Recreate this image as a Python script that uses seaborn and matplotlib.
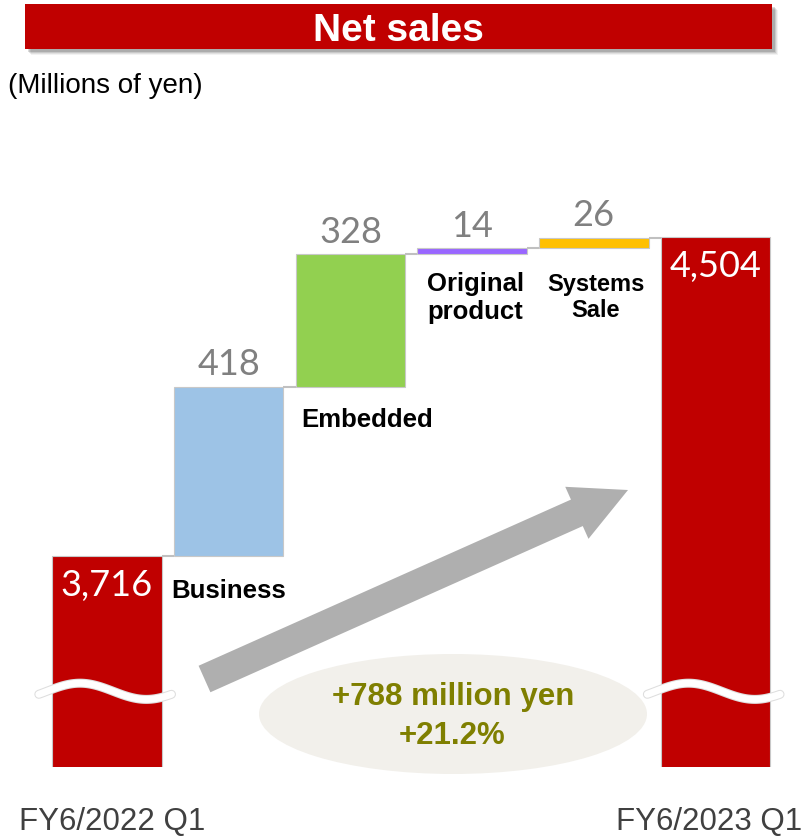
import matplotlib
matplotlib.use("Agg")
import numpy as np
import pandas as pd
import matplotlib.pyplot as plt
import matplotlib.patheffects as pe
from matplotlib.patches import Rectangle, Ellipse, FancyArrow
import seaborn as sns

# ---- data ----
categories = ["FY6/2022 Q1", "Business", "Embedded", "Original product", "Systems Sale", "FY6/2023 Q1"]
start_value = 3716
increments = [418, 328, 14, 26]
end_value = 4504
value_labels = ["3,716", "418", "328", "14", "26", "4,504"]
segment_labels = ["Business", "Embedded", "Original\nproduct", "Systems\nSale"]
bar_colors = ["#c00000", "#9dc3e6", "#92d050", "#9966ff", "#ffc000", "#c00000"]
change_amount = "+788 million yen"
change_rate = "+21.2%"

# ---- waterfall geometry ----
tops, bases = [start_value], [0]
running = start_value
for inc in increments:
    bases.append(running)
    running += inc
    tops.append(running)
tops.append(end_value)
bases.append(0)
df = pd.DataFrame({"category": categories, "top": tops, "base": bases})
df["height"] = df["top"] - df["base"]

sns.set_style("white")
plt.rcParams["font.family"] = ["Liberation Sans", "DejaVu Sans"]

fig = plt.figure(figsize=(8.04, 8.37), dpi=100)

# decoration layer in pixel units (y grows downward)
deco = fig.add_axes([0, 0, 1, 1], zorder=0)
deco.set_xlim(0, 804)
deco.set_ylim(837, 0)
deco.axis("off")

# bar layer; its lower edge is the broken value axis
ax = fig.add_axes([0, 69 / 837, 1, 1 - 69 / 837], zorder=1)
ax.patch.set_alpha(0)

sns.barplot(data=df, x="category", y="height", hue="category", palette=bar_colors,
            legend=False, saturation=1, width=0.9, edgecolor="#c8c8c8",
            linewidth=0.8, errorbar=None, ax=ax)
# float each segment on its running base
for container, base in zip(ax.containers, df["base"]):
    for bar in container:
        bar.set_y(base)

ax.set_xlim(-0.879, 5.727)
ax.set_ylim(3195, 5092)
ax.axis("off")

# connectors between consecutive bars
for i in range(len(categories) - 1):
    ax.plot([i + 0.45, i + 0.55], [tops[i], tops[i]], color="#c0c0c0", lw=1.5,
            solid_capstyle="butt", zorder=3)

# value labels
value_font = dict(family=["Lato", "DejaVu Sans"], fontsize=26)
for i, lab in enumerate(value_labels):
    if i in (0, len(categories) - 1):
        ax.annotate(lab, (i, tops[i]), xytext=(0, -28), textcoords="offset pixels",
                    ha="center", va="center", color="white", zorder=5, **value_font)
    else:
        ax.annotate(lab, (i, tops[i]), xytext=(0, 23), textcoords="offset pixels",
                    ha="center", va="center", color="#808080", zorder=5, **value_font)

# segment names under each floating bar
seg_font = dict(fontweight="bold", color="black", zorder=5)
ax.annotate(segment_labels[0], (1 - 0.45, bases[1]), xytext=(-3, -34),
            textcoords="offset pixels", ha="left", va="center", fontsize=18.5, **seg_font)
ax.annotate(segment_labels[1], (2 - 0.45, bases[2]), xytext=(6, -32),
            textcoords="offset pixels", ha="left", va="center", fontsize=18.5, **seg_font)
ax.annotate(segment_labels[2], (3, bases[3]), xytext=(3, -43),
            textcoords="offset pixels", ha="center", va="center", fontsize=18.5,
            linespacing=1.22, **seg_font)
ax.annotate(segment_labels[3], (4, bases[4]), xytext=(2, -48),
            textcoords="offset pixels", ha="center", va="center", fontsize=17,
            linespacing=1.2, **seg_font)

# axis-break squiggles on the two total bars
t = np.linspace(0, 1, 120)
for i in (0, len(categories) - 1):
    xs = i - 0.56 + 1.09 * t
    ys = 3382 + 20 * np.sin(2 * np.pi * t - 0.38)
    ax.plot(xs, ys, color="white", lw=5, solid_capstyle="round", zorder=6,
            path_effects=[pe.Stroke(linewidth=6.5, foreground="#dedede"), pe.Normal()])

# title banner with soft shadow
for k, a in enumerate([0.05, 0.07, 0.10, 0.14]):
    off = 6 - k
    deco.add_patch(Rectangle((25 + off, 5 + off), 747, 45, facecolor="black",
                             alpha=a, lw=0, zorder=1))
deco.add_patch(Rectangle((25, 5), 747, 45, facecolor="#c00000", lw=0, zorder=2))
deco.text(398, 31, "Net sales", color="white", fontsize=28, fontweight="bold",
          ha="center", va="center", zorder=3)
deco.text(8, 86, "(Millions of yen)", color="black", fontsize=20,
          ha="left", va="center", zorder=3)

# growth arrow
deco.add_patch(FancyArrow(204.5, 680, 423.5, -189, width=29, head_width=57,
                          head_length=56, length_includes_head=True,
                          facecolor="#afafaf", edgecolor="none", zorder=2))

# change summary bubble
deco.add_patch(Ellipse((453, 715), 388, 120, facecolor="#f2f0eb", edgecolor="none", zorder=1))
deco.text(453, 697, change_amount, color="#7f7f00", fontsize=22.5, fontweight="bold",
          ha="center", va="center", zorder=3)
deco.text(452, 736, change_rate, color="#7f7f00", fontsize=22.5, fontweight="bold",
          ha="center", va="center", zorder=3)

# period labels
deco.text(112, 822, categories[0], color="#404040", fontsize=22.5,
          ha="center", va="center", zorder=3)
deco.text(709, 822, categories[-1], color="#404040", fontsize=22.5,
          ha="center", va="center", zorder=3)

fig.savefig("out.png", dpi=100)
